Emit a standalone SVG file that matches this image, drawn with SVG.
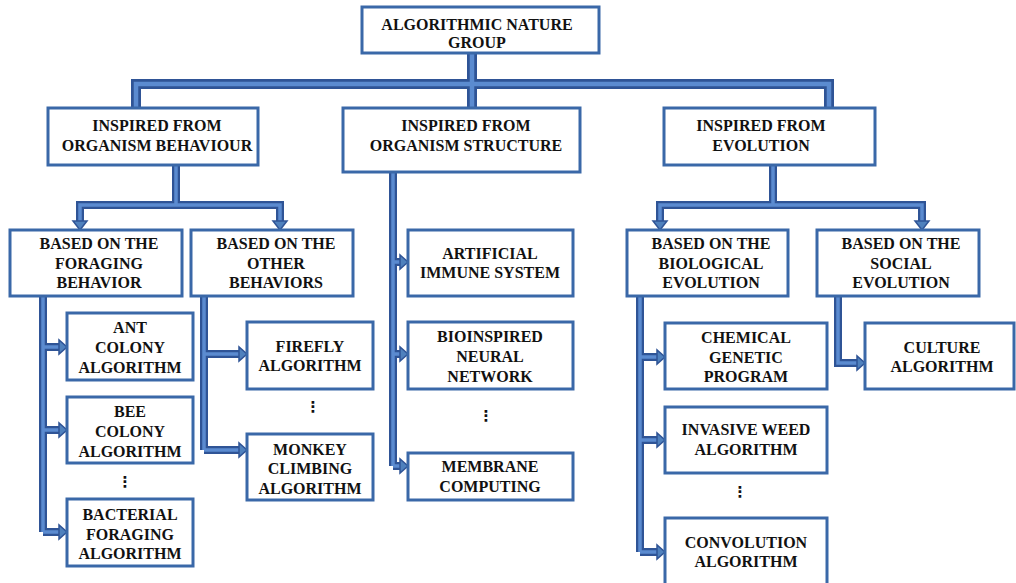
<svg xmlns="http://www.w3.org/2000/svg" width="1016" height="583" viewBox="0 0 1016 583">
<style>
.box{fill:#fff;stroke:#3A68A8;stroke-width:3}
.t{font-family:"Liberation Serif",serif;font-weight:bold;font-size:16px;fill:#111;text-anchor:middle}
.d{font-family:"DejaVu Sans",sans-serif;font-weight:bold;font-size:15px;fill:#111;text-anchor:middle}
.co{fill:none;stroke:#2F5496;stroke-width:8}
.co2{fill:none;stroke:#2F5496;stroke-width:10}
.ci{fill:none;stroke:#5B8BD0;stroke-width:3.5}
.ci2{fill:none;stroke:#5B8BD0;stroke-width:4.5}
.ah{fill:#4F81BD;stroke:#2F5496;stroke-width:1.5}
</style>
<g id="connectors">
<path class="co2" d="M472 53V84M136 108V84H829V108M472 84V108"/>
<path class="co" d="M176 165V205M80 222V205H280V222M773 165V205M660 222V205H922V222"/>
<path class="co" d="M43 296V532M43 347H60M43 430H60M43 532H60"/>
<path class="co" d="M204 296V450M204 354H240M204 450H240"/>
<path class="co" d="M393 172V466M393 262H401M393 354H401M393 466H401"/>
<path class="co" d="M640 296V552M640 357H658M640 440H658M640 552H658"/>
<path class="co" d="M838 296V363H858"/>
<path class="ci2" d="M472 53V84M136 108V84H829V108M472 84V108"/>
<path class="ci" d="M176 165V205M80 222V205H280V222M773 165V205M660 222V205H922V222"/>
<path class="ci" d="M43 296V532M43 347H60M43 430H60M43 532H60"/>
<path class="ci" d="M204 296V450M204 354H240M204 450H240"/>
<path class="ci" d="M393 172V466M393 262H401M393 354H401M393 466H401"/>
<path class="ci" d="M640 296V552M640 357H658M640 440H658M640 552H658"/>
<path class="ci" d="M838 296V363H858"/>
<polygon class="ah" points="73,221 87,221 80,230"/>
<polygon class="ah" points="273,221 287,221 280,230"/>
<polygon class="ah" points="653,221 667,221 660,230"/>
<polygon class="ah" points="915,221 929,221 922,230"/>
<polygon class="ah" points="59,340 59,354 67,347"/>
<polygon class="ah" points="59,423 59,437 67,430"/>
<polygon class="ah" points="59,525 59,539 67,532"/>
<polygon class="ah" points="239,347 239,361 247,354"/>
<polygon class="ah" points="239,443 239,457 247,450"/>
<polygon class="ah" points="400,255 400,269 408,262"/>
<polygon class="ah" points="400,347 400,361 408,354"/>
<polygon class="ah" points="400,459 400,473 408,466"/>
<polygon class="ah" points="657,350 657,364 665,357"/>
<polygon class="ah" points="657,433 657,447 665,440"/>
<polygon class="ah" points="657,545 657,559 665,552"/>
<polygon class="ah" points="857,356 857,370 865,363"/>
</g>
<g id="root"><rect class="box" x="362" y="7" width="237" height="46"/><text class="t" x="477" y="30">ALGORITHMIC  NATURE</text><text class="t" x="477" y="48">GROUP</text></g>
<g id="behaviour"><rect class="box" x="48" y="108" width="210" height="57"/><text class="t" x="157" y="131">INSPIRED FROM</text><text class="t" x="157" y="151">ORGANISM BEHAVIOUR</text></g>
<g id="structure"><rect class="box" x="343" y="108" width="237" height="64"/><text class="t" x="466" y="131">INSPIRED FROM</text><text class="t" x="466" y="151">ORGANISM STRUCTURE</text></g>
<g id="evolution"><rect class="box" x="664" y="108" width="211" height="57"/><text class="t" x="761" y="131">INSPIRED FROM</text><text class="t" x="761" y="151">EVOLUTION</text></g>
<g id="foraging"><rect class="box" x="10" y="230" width="172" height="66"/><text class="t" x="99" y="249">BASED ON THE</text><text class="t" x="99" y="269">FORAGING</text><text class="t" x="99" y="288">BEHAVIOR</text></g>
<g id="other"><rect class="box" x="191" y="230" width="162" height="66"/><text class="t" x="276" y="249">BASED ON THE</text><text class="t" x="276" y="269">OTHER</text><text class="t" x="276" y="288">BEHAVIORS</text></g>
<g id="biological"><rect class="box" x="627" y="230" width="161" height="66"/><text class="t" x="711" y="249">BASED ON THE</text><text class="t" x="711" y="269">BIOLOGICAL</text><text class="t" x="711" y="288">EVOLUTION</text></g>
<g id="social"><rect class="box" x="817" y="230" width="162" height="66"/><text class="t" x="901" y="249">BASED ON THE</text><text class="t" x="901" y="269">SOCIAL</text><text class="t" x="901" y="288">EVOLUTION</text></g>
<g id="ant"><rect class="box" x="67" y="313" width="126" height="67"/><text class="t" x="130" y="333">ANT</text><text class="t" x="130" y="353">COLONY</text><text class="t" x="130" y="373">ALGORITHM</text></g>
<g id="bee"><rect class="box" x="67" y="397" width="126" height="66"/><text class="t" x="130" y="417">BEE</text><text class="t" x="130" y="437">COLONY</text><text class="t" x="130" y="457">ALGORITHM</text></g>
<text class="d" x="125" y="487">⋮</text>
<g id="bacterial"><rect class="box" x="67" y="499" width="126" height="67"/><text class="t" x="130" y="520">BACTERIAL</text><text class="t" x="130" y="540">FORAGING</text><text class="t" x="130" y="559">ALGORITHM</text></g>
<g id="firefly"><rect class="box" x="247" y="322" width="126" height="67"/><text class="t" x="310" y="352">FIREFLY</text><text class="t" x="310" y="371">ALGORITHM</text></g>
<text class="d" x="313" y="412">⋮</text>
<g id="monkey"><rect class="box" x="247" y="434" width="126" height="66"/><text class="t" x="310" y="455">MONKEY</text><text class="t" x="310" y="474">CLIMBING</text><text class="t" x="310" y="494">ALGORITHM</text></g>
<g id="immune"><rect class="box" x="408" y="230" width="165" height="66"/><text class="t" x="490" y="259">ARTIFICIAL</text><text class="t" x="490" y="278">IMMUNE SYSTEM</text></g>
<g id="neural"><rect class="box" x="408" y="322" width="165" height="67"/><text class="t" x="490" y="342">BIOINSPIRED</text><text class="t" x="490" y="362">NEURAL</text><text class="t" x="490" y="382">NETWORK</text></g>
<text class="d" x="486" y="421">⋮</text>
<g id="membrane"><rect class="box" x="408" y="453" width="165" height="47"/><text class="t" x="490" y="472">MEMBRANE</text><text class="t" x="490" y="492">COMPUTING</text></g>
<g id="chemical"><rect class="box" x="665" y="323" width="162" height="66"/><text class="t" x="746" y="343">CHEMICAL</text><text class="t" x="746" y="363">GENETIC</text><text class="t" x="746" y="382">PROGRAM</text></g>
<g id="invasive"><rect class="box" x="665" y="407" width="162" height="66"/><text class="t" x="746" y="435">INVASIVE WEED</text><text class="t" x="746" y="455">ALGORITHM</text></g>
<text class="d" x="740" y="497">⋮</text>
<g id="convolution"><rect class="box" x="665" y="518" width="162" height="68"/><text class="t" x="746" y="548">CONVOLUTION</text><text class="t" x="746" y="567">ALGORITHM</text></g>
<g id="culture"><rect class="box" x="865" y="323" width="149" height="66"/><text class="t" x="942" y="353">CULTURE</text><text class="t" x="942" y="372">ALGORITHM</text></g>
</svg>
